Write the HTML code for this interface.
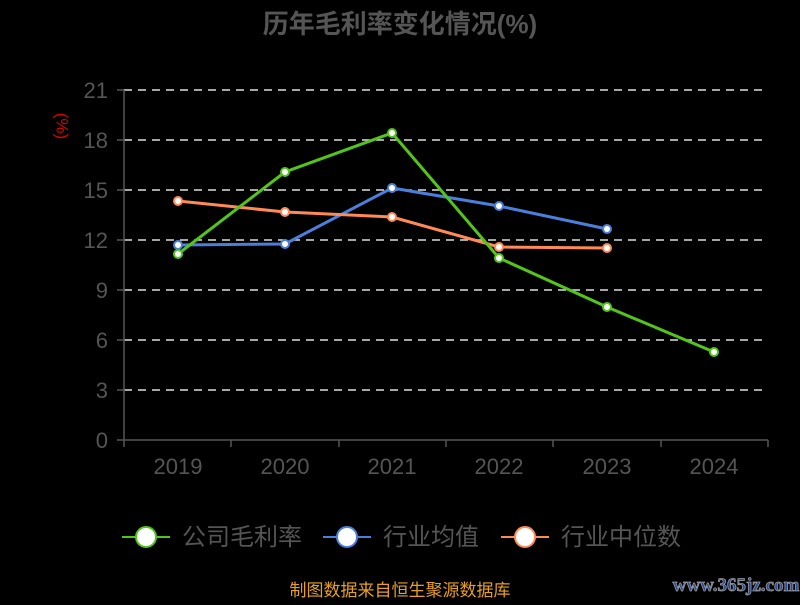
<!DOCTYPE html>
<html><head><meta charset="utf-8"><style>
body{margin:0;background:#000;width:800px;height:600px;overflow:hidden;font-family:"Liberation Sans","Noto Sans CJK SC",sans-serif}
</style></head><body>
<svg width="800" height="600" xmlns="http://www.w3.org/2000/svg" font-family="Liberation Sans, Noto Sans CJK SC, sans-serif">
<rect width="800" height="600" fill="#000"/>
<text x="400" y="33" text-anchor="middle" font-size="26" font-weight="bold" fill="#555">历年毛利率变化情况(%)</text>
<text x="62" y="126" font-size="17" fill="#d00" transform="rotate(90 62 126)" text-anchor="middle" dominant-baseline="central">(%)</text>
<g stroke="#ddd" stroke-width="1.5" stroke-dasharray="8,6">
<line x1="124" x2="768" y1="90" y2="90"/><line x1="124" x2="768" y1="140" y2="140"/><line x1="124" x2="768" y1="190" y2="190"/><line x1="124" x2="768" y1="240" y2="240"/><line x1="124" x2="768" y1="290" y2="290"/><line x1="124" x2="768" y1="340" y2="340"/><line x1="124" x2="768" y1="390" y2="390"/>
</g>
<g stroke="#555" stroke-width="1.5">
<line x1="124" y1="90" x2="124" y2="440"/><line x1="124" y1="440" x2="768" y2="440"/>
<line x1="117" x2="124" y1="90" y2="90"/><line x1="117" x2="124" y1="140" y2="140"/><line x1="117" x2="124" y1="190" y2="190"/><line x1="117" x2="124" y1="240" y2="240"/><line x1="117" x2="124" y1="290" y2="290"/><line x1="117" x2="124" y1="340" y2="340"/><line x1="117" x2="124" y1="390" y2="390"/><line x1="117" x2="124" y1="440" y2="440"/>
<line x1="124" x2="124" y1="440" y2="447"/><line x1="231" x2="231" y1="440" y2="447"/><line x1="339" x2="339" y1="440" y2="447"/><line x1="446" x2="446" y1="440" y2="447"/><line x1="553" x2="553" y1="440" y2="447"/><line x1="661" x2="661" y1="440" y2="447"/><line x1="768" x2="768" y1="440" y2="447"/>
</g>
<g fill="#555" font-size="22" text-anchor="end">
<text x="108" y="98">21</text><text x="108" y="148">18</text><text x="108" y="198">15</text><text x="108" y="248">12</text><text x="108" y="298">9</text><text x="108" y="348">6</text><text x="108" y="398">3</text><text x="108" y="448">0</text>
</g>
<g fill="#555" font-size="22" text-anchor="middle">
<text x="178" y="474">2019</text><text x="285" y="474">2020</text><text x="392" y="474">2021</text><text x="499" y="474">2022</text><text x="607" y="474">2023</text><text x="714" y="474">2024</text>
</g>
<polyline fill="none" stroke="#4a7fdc" stroke-width="3" points="178,245 285,244 392,188 499,206 607,229"/>
<polyline fill="none" stroke="#ff8a55" stroke-width="3" points="178,201 285,212 392,217 499,247 607,248"/>
<polyline fill="none" stroke="#52c41a" stroke-width="3" points="178,254 285,172 392,133 499,258 607,307 714,352"/>
<g fill="#fff" stroke="#4a7fdc" stroke-width="2"><circle cx="178" cy="245" r="4"/><circle cx="285" cy="244" r="4"/><circle cx="392" cy="188" r="4"/><circle cx="499" cy="206" r="4"/><circle cx="607" cy="229" r="4"/></g>
<g fill="#fff" stroke="#ff8a55" stroke-width="2"><circle cx="178" cy="201" r="4"/><circle cx="285" cy="212" r="4"/><circle cx="392" cy="217" r="4"/><circle cx="499" cy="247" r="4"/><circle cx="607" cy="248" r="4"/></g>
<g fill="#fff" stroke="#52c41a" stroke-width="2"><circle cx="178" cy="254" r="4"/><circle cx="285" cy="172" r="4"/><circle cx="392" cy="133" r="4"/><circle cx="499" cy="258" r="4"/><circle cx="607" cy="307" r="4"/><circle cx="714" cy="352" r="4"/></g>
<g font-size="24" fill="#555">
<line x1="122" x2="170" y1="537" y2="537" stroke="#52c41a" stroke-width="2"/><circle cx="146" cy="537" r="10" fill="#fff" stroke="#52c41a" stroke-width="2"/><text x="182" y="545">公司毛利率</text>
<line x1="323" x2="371" y1="537" y2="537" stroke="#4a7fdc" stroke-width="2"/><circle cx="347" cy="537" r="10" fill="#fff" stroke="#4a7fdc" stroke-width="2"/><text x="383" y="545">行业均值</text>
<line x1="501" x2="549" y1="537" y2="537" stroke="#ff8a55" stroke-width="2"/><circle cx="525" cy="537" r="10" fill="#fff" stroke="#ff8a55" stroke-width="2"/><text x="561" y="545">行业中位数</text>
</g>
<text x="400" y="596" text-anchor="middle" font-size="17" fill="#e8a020">制图数据来自恒生聚源数据库</text>
<text x="736" y="591" text-anchor="middle" font-size="19" font-weight="bold" fill="#2a4a9a" stroke="#999" stroke-width="0.8" font-family="Liberation Serif, serif">www.365jz.com</text>
</svg>
</body></html>
